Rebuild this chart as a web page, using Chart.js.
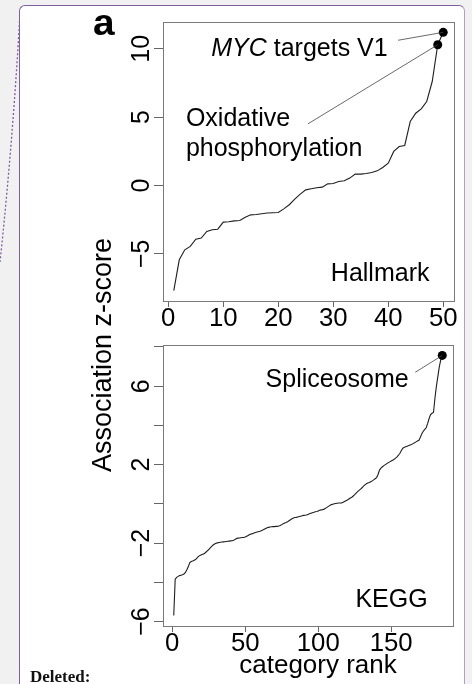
<!DOCTYPE html>
<html>
<head>
<meta charset="utf-8">
<script src="https://cdn.jsdelivr.net/npm/chart.js@4.4.1/dist/chart.umd.min.js"></script>
<style>
  html, body { margin: 0; padding: 0; background: #f1f1f1; }
  #page { position: relative; width: 472px; height: 684px; overflow: hidden; }
  #note {
    position: absolute; left: 19px; top: 5px; width: 444px; height: 720px;
    background: #fff; border: 1.5px solid #7f5f9f; border-right-color: #b49cc8; border-radius: 6px;
  }
  canvas { position: absolute; left: 0; top: 0; }
  svg { position: absolute; left: 0; top: 0; }
  #deleted {
    position: absolute; left: 30px; top: 667px; line-height: 16.5px;
    font: bold 17px "Liberation Serif", "Times New Roman", serif; color: #111;
  }
</style>
</head>
<body>
<div id="page">
  <svg width="472" height="684">
    <path d="M20 13 Q13 140 0 262" fill="none" stroke="#7d5ca0" stroke-width="1.3" stroke-dasharray="2 2"/>
  </svg>
  <div id="note"></div>
  <canvas id="hallmark" width="472" height="684"></canvas>
  <canvas id="kegg" width="472" height="684"></canvas>
  <div id="deleted">Deleted:</div>
</div>
<script>
// association z-scores, sorted by category rank
const hallmarkZ = [
  -7.70, -5.44, -4.71, -4.46, -3.93, -3.85, -3.37, -3.24, -3.20, -2.68,
  -2.66, -2.59, -2.56, -2.32, -2.15, -2.12, -2.07, -2.02, -2.00, -1.98,
  -1.71, -1.41, -1.00, -0.63, -0.32, -0.24, -0.17, -0.12, 0.12, 0.15,
  0.29, 0.34, 0.54, 0.83, 0.83, 0.88, 0.95, 1.07, 1.32, 1.63,
  2.49, 2.85, 2.93, 4.68, 5.29, 5.61, 6.15, 7.61, 10.30, 11.21
];
const keggZ = [
  -5.70, -3.84, -3.75, -3.70, -3.66, -3.64, -3.62, -3.58, -3.50, -3.36,
  -3.20, -3.00, -2.94, -2.92, -2.88, -2.84, -2.76, -2.68, -2.63, -2.60,
  -2.57, -2.54, -2.47, -2.40, -2.33, -2.25, -2.17, -2.10, -2.05, -2.01,
  -1.99, -1.97, -1.96, -1.95, -1.94, -1.93, -1.92, -1.91, -1.90, -1.89,
  -1.88, -1.86, -1.82, -1.77, -1.75, -1.74, -1.73, -1.72, -1.71, -1.69,
  -1.65, -1.61, -1.57, -1.54, -1.52, -1.49, -1.46, -1.44, -1.42, -1.40,
  -1.37, -1.34, -1.30, -1.26, -1.22, -1.20, -1.18, -1.17, -1.16, -1.16,
  -1.15, -1.15, -1.13, -1.10, -1.06, -1.02, -0.98, -0.95, -0.91, -0.86,
  -0.81, -0.76, -0.72, -0.70, -0.69, -0.67, -0.65, -0.63, -0.61, -0.59,
  -0.58, -0.57, -0.54, -0.51, -0.48, -0.45, -0.43, -0.40, -0.39, -0.36,
  -0.33, -0.31, -0.30, -0.27, -0.23, -0.18, -0.13, -0.08, -0.04, -0.02,
  0.00, 0.02, 0.03, 0.04, 0.04, 0.05, 0.08, 0.12, 0.16, 0.20,
  0.25, 0.30, 0.34, 0.40, 0.47, 0.55, 0.62, 0.69, 0.75, 0.82,
  0.90, 0.97, 1.03, 1.06, 1.09, 1.13, 1.17, 1.22, 1.28, 1.34,
  1.50, 1.72, 1.82, 1.89, 1.95, 2.00, 2.05, 2.10, 2.14, 2.18,
  2.22, 2.27, 2.33, 2.40, 2.48, 2.58, 2.72, 2.84, 2.88, 2.91,
  2.94, 2.97, 3.00, 3.03, 3.07, 3.11, 3.16, 3.20, 3.24, 3.40,
  3.58, 3.70, 3.80, 3.88, 4.10, 4.35, 4.55, 4.62, 4.66, 5.40,
  6.00, 6.50, 7.00, 7.35, 7.57
];

// axis ticks
const hallmarkXTicks = [0, 10, 20, 30, 40, 50];
const hallmarkYTicks = [-5, 0, 5, 10];
const hallmarkYLabels = [-5, 0, 5, 10];
const keggXTicks = [0, 50, 100, 150];
const keggYTicks = [-6, -4, -2, 0, 2, 4, 6, 8];
const keggYLabels = [-6, -2, 2, 6];

// named categories (rank -> name)
const hallmarkHits = { 49: 'Oxidative phosphorylation', 50: 'MYC targets V1' };
const keggHits = { 185: 'Spliceosome' };

const FONT = '"Liberation Sans", Arial, Helvetica, sans-serif';

// R-style axis range: data range plus 4% on each side
function rRange(lo, hi) {
  const d = (hi - lo) * 0.04;
  return [lo - d, hi + d];
}
const fmt = v => (v < 0 ? '\u2212' + Math.abs(v) : String(v));

// text in parts (for mixed italic), optionally rotated and stretched
function drawText(ctx, parts, x, y, o) {
  const size = o.size || 25, sx = o.sx || 1;
  ctx.save();
  ctx.translate(x, y);
  if (o.rot) ctx.rotate(o.rot);
  ctx.scale(sx, 1);
  ctx.fillStyle = '#000';
  ctx.textBaseline = 'alphabetic';
  ctx.textAlign = 'left';
  const fontOf = st => `${st || ''} ${size}px ${FONT}`;
  const widths = parts.map(([t, st]) => { ctx.font = fontOf(st); return ctx.measureText(t).width; });
  const total = widths.reduce((s, w) => s + w, 0);
  let cx = o.align === 'right' ? -total : o.align === 'center' ? -total / 2 : 0;
  parts.forEach(([t, st], i) => {
    ctx.font = fontOf(st);
    ctx.fillText(t, cx, 0);
    cx += widths[i];
  });
  ctx.restore();
}

// box, tick labels, annotations
const rStyle = {
  id: 'rStyle',
  afterDraw(chart, args, opts) {
    const ctx = chart.ctx, a = chart.chartArea;
    const xs = chart.scales.x, ys = chart.scales.y;
    ctx.save();
    ctx.strokeStyle = '#7a7a7a';
    ctx.lineWidth = 1;
    ctx.strokeRect(Math.round(a.left) + 0.5, Math.round(a.top) + 0.5,
      Math.round(a.right - a.left), Math.round(a.bottom - a.top));

    opts.xLabels.forEach(v => drawText(ctx, [[fmt(v)]], xs.getPixelForValue(v), a.bottom + 25,
      { size: 25, sx: 1.03, align: 'center' }));
    opts.yLabels.forEach(v => drawText(ctx, [[fmt(v)]], a.left - 14, ys.getPixelForValue(v),
      { size: 25, rot: -Math.PI / 2, align: 'center' }));

    // leader lines to the named points
    const pts = chart.getDatasetMeta(0).data;
    ctx.strokeStyle = '#444';
    ctx.lineWidth = 0.8;
    opts.notes.forEach(n => {
      if (!n.from) return;
      const p = pts[n.rank - 1];
      ctx.beginPath();
      ctx.moveTo(xs.getPixelForValue(n.from[0]), ys.getPixelForValue(n.from[1]));
      ctx.lineTo(p.x, p.y);
      ctx.stroke();
    });
    opts.notes.forEach(n => drawText(ctx, n.parts, xs.getPixelForValue(n.at[0]), ys.getPixelForValue(n.at[1]),
      { size: 25, sx: 1.0, align: n.align }));

    (opts.extra || []).forEach(e => drawText(ctx, e.parts, e.x, e.y, e));
    ctx.restore();
  }
};

function makeChart(id, z, hits, xTicks, yTicks, style, pad) {
  const xr = rRange(1, z.length);
  const yr = rRange(Math.min(...z), Math.max(...z));
  const tickSetter = list => s => { s.ticks = list.map(v => ({ value: v })); };
  return new Chart(document.getElementById(id), {
    type: 'line',
    data: {
      datasets: [{
        data: z.map((v, i) => ({ x: i + 1, y: v })),
        borderColor: '#1e1e1e',
        borderWidth: 1.1,
        tension: 0,
        fill: false,
        pointRadius: c => (hits[c.dataIndex + 1] ? 4.5 : 0),
        pointBackgroundColor: '#000',
        pointBorderWidth: 0,
        clip: false
      }]
    },
    options: {
      responsive: false,
      animation: false,
      layout: { padding: pad, autoPadding: false },
      plugins: { legend: { display: false }, tooltip: { enabled: false }, rStyle: style },
      scales: {
        x: {
          type: 'linear', min: xr[0], max: xr[1],
          grid: { display: true, drawOnChartArea: false, drawTicks: true, tickLength: 6, color: '#666' },
          border: { display: false },
          ticks: { display: false },
          afterBuildTicks: tickSetter(xTicks),
          afterFit: s => { s.height = 0; }
        },
        y: {
          type: 'linear', min: yr[0], max: yr[1],
          grid: { display: true, drawOnChartArea: false, drawTicks: true, tickLength: 9, color: '#666' },
          border: { display: false },
          ticks: { display: false },
          afterBuildTicks: tickSetter(yTicks),
          afterFit: s => { s.width = 0; }
        }
      }
    },
    plugins: [rStyle]
  });
}

makeChart('hallmark', hallmarkZ, hallmarkHits, hallmarkXTicks, hallmarkYTicks, {
  xLabels: hallmarkXTicks,
  yLabels: hallmarkYLabels,
  notes: [
    { rank: 50, parts: [['MYC', 'italic'], [' targets V1']], at: [39.9, 9.46], align: 'right', from: [41.8, 10.63] },
    { rank: 49, parts: [['Oxidative']], at: [3.2, 4.39], align: 'left', from: [25.4, 4.51] },
    { parts: [['phosphorylation']], at: [3.2, 2.19], align: 'left' },
    { parts: [['Hallmark']], at: [47.5, -7.0], align: 'right' }
  ],
  extra: [
    { parts: [['a', 'bold']], x: 93, y: 35, size: 37, sx: 1.05, align: 'left' },
    { parts: [['Association z-score']], x: 111, y: 355, size: 27, rot: -Math.PI / 2, align: 'center' }
  ]
}, { left: 163, top: 22, right: 18, bottom: 383 });

makeChart('kegg', keggZ, keggHits, keggXTicks, keggYTicks, {
  xLabels: keggXTicks,
  yLabels: keggYLabels,
  notes: [
    { rank: 185, parts: [['Spliceosome']], at: [162, 5.97], align: 'right', from: [166.5, 6.71] },
    { parts: [['KEGG']], at: [175, -5.24], align: 'right' }
  ],
  extra: [
    { parts: [['category rank']], x: 318, y: 673, size: 25, sx: 1.04, align: 'center' }
  ]
}, { left: 163, top: 345, right: 19, bottom: 58 });
</script>
</body>
</html>
